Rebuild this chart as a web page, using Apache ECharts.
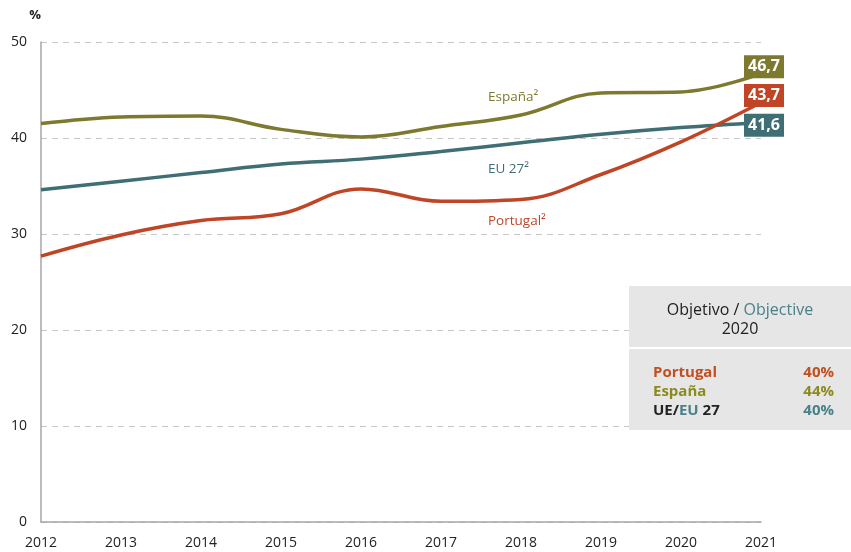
<!DOCTYPE html>
<html>
<head>
<meta charset="utf-8">
<script src="https://cdn.jsdelivr.net/npm/echarts@6/dist/echarts.min.js"></script>
<style>
  html, body { margin: 0; padding: 0; background: #fff; }
  #chart { width: 851px; height: 552px; }
</style>
</head>
<body>
<div id="chart"></div>
<script>
// datos
var years = ['2012', '2013', '2014', '2015', '2016', '2017', '2018', '2019', '2020', '2021'];
var espana = [41.5, 42.2, 42.3, 40.9, 40.1, 41.2, 42.4, 44.7, 44.8, 46.7];
var eu27 = [34.6, 35.5, 36.4, 37.3, 37.8, 38.6, 39.5, 40.4, 41.1, 41.6];
var portugal = [27.7, 29.9, 31.4, 32.1, 34.7, 33.4, 33.6, 36.2, 39.6, 43.7];

var C_ES = '#7d7a30';
var C_EU = '#3f6e74';
var C_PT = '#bf4526';
var FONT = 'Open Sans';

var chart = echarts.init(document.getElementById('chart'));

function line(name, data, color, dy) {
  return {
    name: name,
    type: 'line',
    data: data,
    smooth: 0.4,
    symbol: 'none',
    lineStyle: { color: color, width: 3.5 },
    endLabel: {
      show: true,
      formatter: function (p) { return p.value.toFixed(1).replace('.', ','); },
      backgroundColor: color,
      color: '#fff',
      fontWeight: 'bold',
      fontFamily: FONT,
      fontSize: 16,
      width: 32,
      align: 'center',
      padding: [4, 4, 3, 4],
      distance: 3,
      offset: [0, dy]
    },
    z: 3
  };
}

chart.setOption({
  animation: false,
  grid: { left: 41, right: 90, top: 42, bottom: 30 },
  xAxis: {
    type: 'category',
    data: years,
    boundaryGap: false,
    axisLine: { lineStyle: { color: '#a6a6a6', width: 1.5 } },
    axisTick: { show: false },
    axisLabel: { color: '#222', fontFamily: FONT, fontSize: 14, margin: 14 }
  },
  yAxis: {
    type: 'value',
    min: 0, max: 50, interval: 10,
    name: '%',
    nameLocation: 'end',
    nameGap: 20,
    nameTextStyle: { color: '#222', fontWeight: 'bold', fontFamily: FONT, fontSize: 13, align: 'right' },
    axisLine: { show: true, lineStyle: { color: '#a6a6a6', width: 1.5 } },
    axisTick: { show: false },
    axisLabel: { color: '#222', fontFamily: FONT, fontSize: 14, margin: 14 },
    splitLine: { lineStyle: { color: '#c8c8c8', type: [6, 5] } }
  },
  series: [
    line('España', espana, C_ES, -7),
    line('EU 27', eu27, C_EU, 2.5),
    line('Portugal', portugal, C_PT, -7)
  ],
  graphic: [
    { type: 'text', left: 488, top: 90, style: { text: 'España²', fill: C_ES, font: '13.5px "' + FONT + '"' } },
    { type: 'text', left: 488, top: 162, style: { text: 'EU 27²', fill: C_EU, font: '13.5px "' + FONT + '"' } },
    { type: 'text', left: 488, top: 214, style: { text: 'Portugal²', fill: C_PT, font: '13.5px "' + FONT + '"' } },
    { type: 'rect', shape: { x: 629, y: 286, width: 222, height: 61 }, style: { fill: '#e6e6e7' }, z: 10 },
    { type: 'rect', shape: { x: 629, y: 349, width: 222, height: 81 }, style: { fill: '#e6e6e7' }, z: 10 },
    {
      type: 'text', x: 740, y: 301, z: 11,
      style: {
        text: '{a|Objetivo / }{b|Objective}\n{a|2020}',
        align: 'center',
        rich: {
          a: { fill: '#222', fontFamily: FONT, fontSize: 16, lineHeight: 19 },
          b: { fill: '#4a8088', fontFamily: FONT, fontSize: 16, lineHeight: 19 }
        }
      }
    },
    {
      type: 'text', x: 653, y: 363, z: 11,
      style: {
        text: '{p|Portugal}\n{e|España}\n{k|UE/}{u|EU}{k| 27}',
        rich: {
          p: { fill: '#c0501f', fontFamily: FONT, fontWeight: 'bold', fontSize: 15, lineHeight: 19 },
          e: { fill: '#8c8a1e', fontFamily: FONT, fontWeight: 'bold', fontSize: 15, lineHeight: 19 },
          k: { fill: '#222', fontFamily: FONT, fontWeight: 'bold', fontSize: 15, lineHeight: 19 },
          u: { fill: '#4a8088', fontFamily: FONT, fontWeight: 'bold', fontSize: 15, lineHeight: 19 }
        }
      }
    },
    {
      type: 'text', x: 834, y: 363, z: 11,
      style: {
        text: '{p|40%}\n{e|44%}\n{u|40%}',
        align: 'right',
        rich: {
          p: { fill: '#c0501f', fontFamily: FONT, fontWeight: 'bold', fontSize: 15, lineHeight: 19, align: 'right' },
          e: { fill: '#8c8a1e', fontFamily: FONT, fontWeight: 'bold', fontSize: 15, lineHeight: 19, align: 'right' },
          u: { fill: '#4a8088', fontFamily: FONT, fontWeight: 'bold', fontSize: 15, lineHeight: 19, align: 'right' }
        }
      }
    }
  ]
});
</script>
</body>
</html>
